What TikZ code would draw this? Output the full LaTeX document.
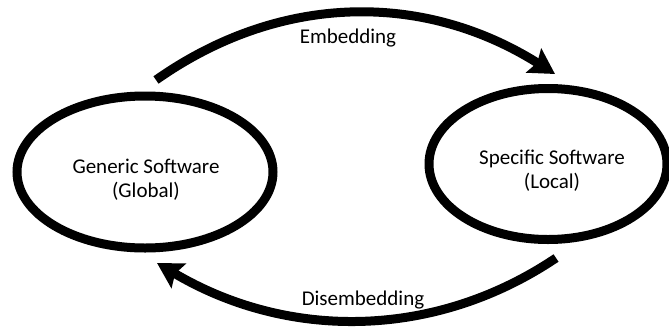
\documentclass[tikz,border=0pt]{standalone}
\usepackage{fontspec}
\setmainfont{Carlito}
\usetikzlibrary{arrows.meta,shapes.geometric}
\begin{document}
\begin{tikzpicture}[x=1pt,y=1pt,
  state/.style={ellipse,draw=black,line width=9pt,inner sep=0pt},
  flow/.style={line width=9pt,-{Stealth[length=25pt,width=28pt,inset=4pt]}},
  caption/.style={font=\fontsize{21}{24}\selectfont,align=center,inner sep=0pt}]
\useasboundingbox (0,0) rectangle (669,-327);

% the two software states
\node[state,minimum width=256pt,minimum height=152pt] (gen) at (145,-172) {};
\node[state,minimum width=238pt,minimum height=151pt] (spec) at (548,-164) {};
\node[caption] (gentext) at (146,-180) {Generic Software\\(Global)};
\node[caption] (spectext) at (552,-171) {Specific Software\\(Local)};

% connector ends
\coordinate (embA) at (156,-80);
\coordinate (embB) at (555,-74);
\coordinate (disA) at (556,-258);
\coordinate (disB) at (157,-263);

% transitions
\draw[flow] (embA) .. controls (281,8) and (425,8) .. (embB);
\draw[flow] (disA) .. controls (434,-340) and (287,-340) .. (disB);

\node[caption] (emb) at (348,-38) {Embedding};
\node[caption] (dis) at (363,-300) {Disembedding};
\end{tikzpicture}
\end{document}
